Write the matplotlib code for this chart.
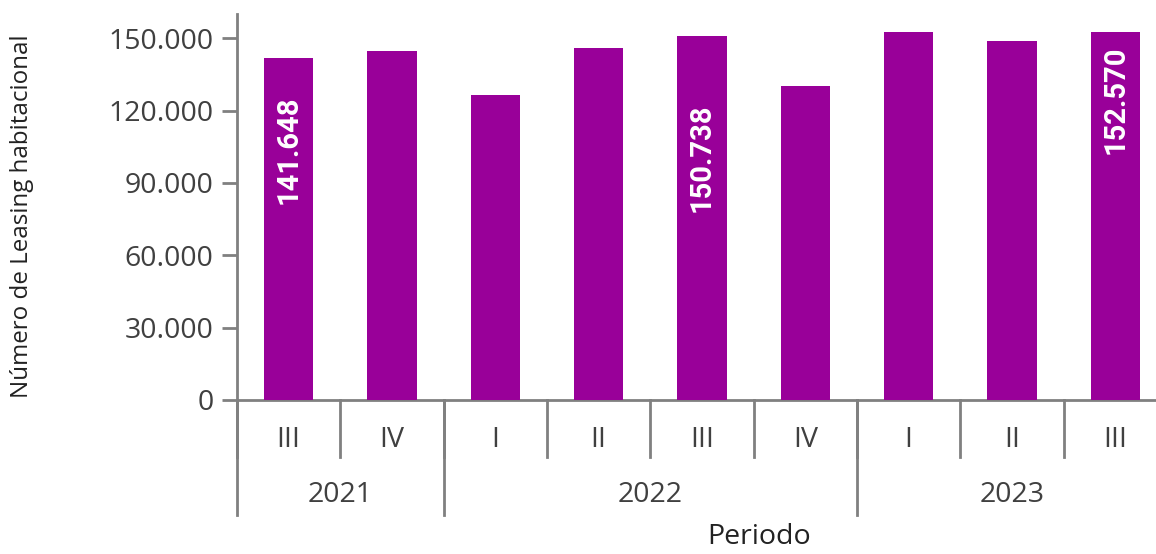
import matplotlib
matplotlib.use("Agg")
import matplotlib.pyplot as plt
from matplotlib.transforms import blended_transform_factory

quarters = ["III", "IV", "I", "II", "III", "IV", "I", "II", "III"]
years = ["2021", "2022", "2023"]
year_counts = [2, 4, 3]
values = [141648, 144600, 126400, 145900, 150738, 130300, 152500, 149000, 152570]
labels = {0: "141.648", 4: "150.738", 8: "152.570"}
label_y = {0: 103600, 4: 100300, 8: 124300}
yticks = [0, 30000, 60000, 90000, 120000, 150000]
ytick_labels = ["0", "30.000", "60.000", "90.000", "120.000", "150.000"]

BAR = "#990099"
AX = "#808080"
TXT = "#404040"
FONT = "Open Sans"

fig = plt.figure(figsize=(11.56, 5.54), dpi=100)
ax = fig.add_axes([237/1156, 154/554, (1167-237)/1156, (400-14)/554])

x = list(range(len(values)))
ax.bar(x, values, width=0.48, color=BAR, zorder=3)
ax.set_xlim(-0.5, len(values) - 0.5)
ax.set_ylim(0, 160000)

ax.set_yticks(yticks)
ax.set_yticklabels(ytick_labels, fontsize=20.5, color=TXT, family=FONT)
ax.tick_params(axis="y", length=11, width=2, color=AX, pad=6)
ax.set_xticks([])

for s in ["top", "right"]:
    ax.spines[s].set_visible(False)
for s in ["left", "bottom"]:
    ax.spines[s].set_color(AX)
    ax.spines[s].set_linewidth(2)

for i, t in labels.items():
    ax.text(i, label_y[i], t, rotation=90, ha="center", va="center", color="white",
            fontsize=21, fontweight="bold", family=["Roboto", "DejaVu Sans"], zorder=4)

tr = blended_transform_factory(ax.transData, ax.transAxes)
q_depth = -57/386
y_depth = -115/386
for b in range(len(values) + 1):
    ax.plot([b - 0.5, b - 0.5], [0, q_depth], transform=tr, color=AX, lw=2, clip_on=False)
pos = -0.5
ax.plot([pos, pos], [0, y_depth], transform=tr, color=AX, lw=2, clip_on=False)
for yr, c in zip(years, year_counts):
    ax.text(pos + c/2, -95/386, yr, transform=tr, ha="center", va="center",
            fontsize=20.5, color=TXT, family=FONT)
    pos += c
    ax.plot([pos, pos], [0, y_depth], transform=tr, color=AX, lw=2, clip_on=False)

for i, q in enumerate(quarters):
    ax.text(i, -40/386, q, transform=tr, ha="center", va="center",
            fontsize=20.5, color=TXT, family=FONT)

fig.text(759/1156, 3/554, "Periodo", ha="center", va="bottom",
         fontsize=20.5, color="#222222", family=FONT)
fig.text(22/1156, 1 - 216/554, "Número de Leasing habitacional", rotation=90,
         ha="center", va="center", fontsize=17.4, color="#222222", family=FONT)

fig.savefig("out.png", dpi=100)
